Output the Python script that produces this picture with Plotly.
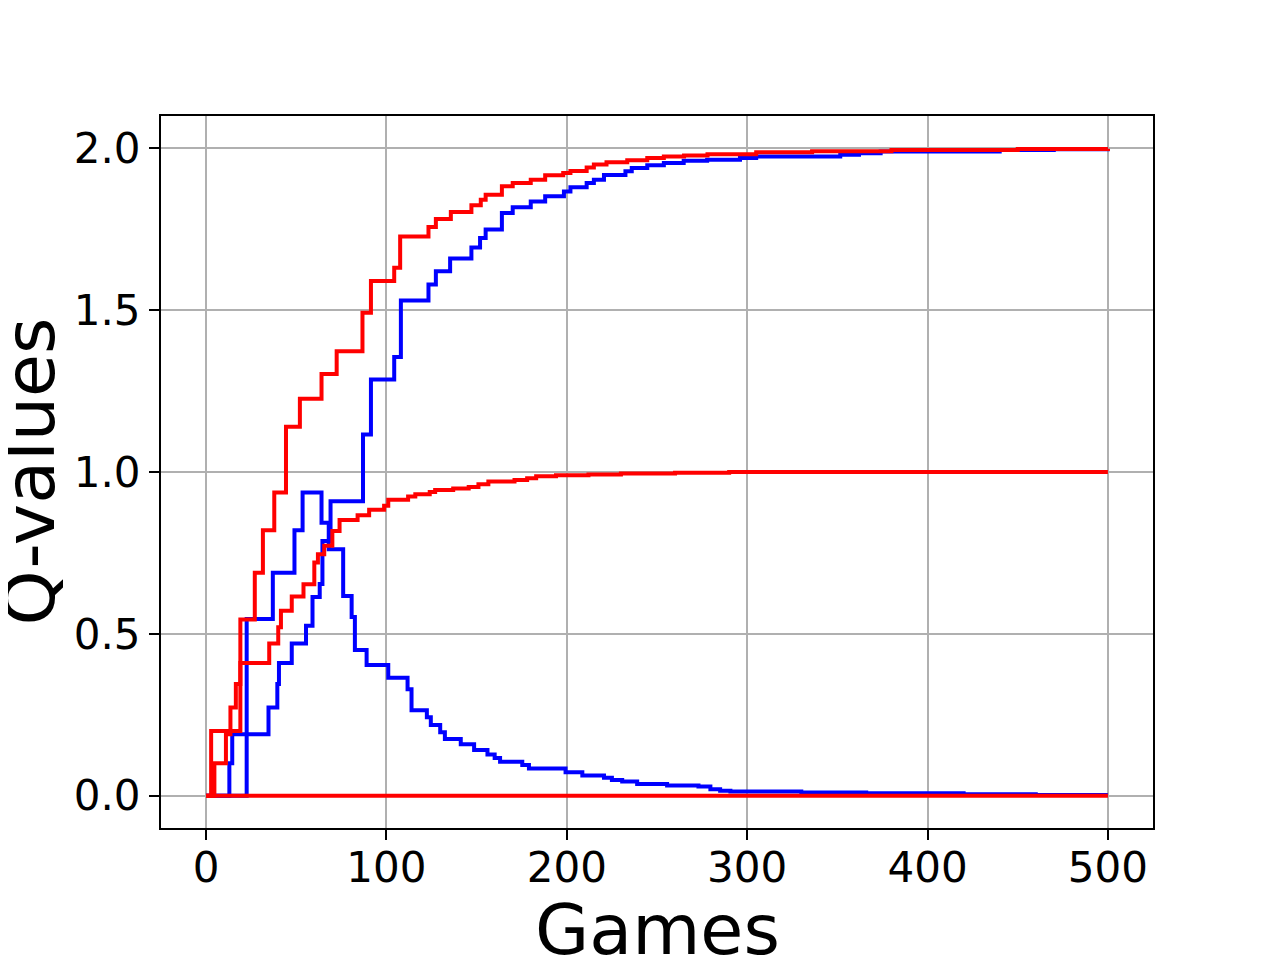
import plotly.graph_objects as go

# Step series: game at which each level starts, and the level value
blue_up_games = [0, 12.9, 14.5, 34.6, 39.5, 40.4, 47.5, 55.4, 59, 63, 64.5, 69, 87, 91.4, 104.3, 108,
                 123.3, 127.4, 135.3, 147.1, 151.9, 155, 164, 170, 180, 188, 198.4, 202, 211, 215,
                 220.6, 232.5, 236, 244.6, 253.8, 264.8, 277.8, 296, 305, 351.6, 362, 374, 440, 470, 500]
blue_up_vals = [0, 0.10, 0.19, 0.272, 0.345, 0.41, 0.47, 0.525, 0.614, 0.654, 0.787, 0.91, 1.116, 1.286,
                1.355, 1.53, 1.579, 1.62, 1.66, 1.694, 1.723, 1.749, 1.80, 1.818, 1.836, 1.852, 1.867,
                1.88, 1.893, 1.903, 1.918, 1.929, 1.939, 1.948, 1.955, 1.962, 1.965, 1.970, 1.975,
                1.98, 1.985, 1.99, 1.995, 1.997, 1.998]

blue_peak_games = [0, 22.5, 37, 49, 53.5, 64, 68, 76, 80.7, 82.5, 89, 101, 111.7, 113.9, 122.4, 124.6,
                   129.8, 132.4, 141.2, 148.6, 156, 160, 163, 175.3, 179, 199.3, 208.6, 220.6, 225,
                   230.7, 239, 255.6, 273, 279.6, 285, 290.7, 330, 366, 420, 460, 500]
blue_peak_vals = [0, 0.546, 0.689, 0.82, 0.937, 0.843, 0.761, 0.617, 0.552, 0.450, 0.404, 0.364, 0.329,
                  0.264, 0.242, 0.218, 0.196, 0.175, 0.159, 0.141, 0.127, 0.116, 0.105, 0.095, 0.084,
                  0.072, 0.062, 0.055, 0.048, 0.044, 0.036, 0.031, 0.028, 0.020, 0.015, 0.013, 0.010,
                  0.007, 0.004, 0.002, 0.002]

red_up_games = [0, 2.8, 19, 27, 31.5, 37.8, 44.3, 52, 64, 72.4, 86.7, 91.4, 104.3, 107.6, 123.3, 127.4,
                135.7, 147.1, 152.3, 155, 164, 170, 180, 188, 198, 202, 211, 215, 222, 233.5, 244.6,
                253.8, 265, 278, 305, 336, 380, 450, 500]
red_up_vals = [0, 0.20, 0.544, 0.689, 0.82, 0.937, 1.14, 1.226, 1.303, 1.373, 1.492, 1.59, 1.631, 1.728,
               1.757, 1.782, 1.803, 1.824, 1.841, 1.857, 1.883, 1.893, 1.903, 1.917, 1.924, 1.93, 1.941,
               1.95, 1.957, 1.963, 1.97, 1.975, 1.978, 1.982, 1.988, 1.991, 1.995, 1.998, 1.999]

red_one_games = [0, 4.6, 11, 13.5, 16.5, 19, 35, 40, 41.5, 47.5, 54, 60, 62, 65.5, 70, 74, 84, 90.4,
                 98.7, 101, 112, 116, 124, 127, 137, 145.6, 151, 156.5, 171, 178, 183, 194, 212, 230,
                 260, 290, 500]
red_one_vals = [0, 0.10, 0.19, 0.272, 0.345, 0.41, 0.47, 0.52, 0.571, 0.615, 0.653, 0.72, 0.746, 0.772,
                0.818, 0.852, 0.866, 0.883, 0.896, 0.914, 0.924, 0.931, 0.938, 0.944, 0.949, 0.954,
                0.962, 0.971, 0.975, 0.981, 0.987, 0.990, 0.992, 0.995, 0.998, 1.0, 1.0]

red_zero_games = [0, 500]
red_zero_vals = [0, 0]

x_ticks = [0, 100, 200, 300, 400, 500]
y_ticks = [0.0, 0.5, 1.0, 1.5, 2.0]
y_tick_text = ["0.0", "0.5", "1.0", "1.5", "2.0"]
x_title = "Games"
y_title = "Q-values"

fig = go.Figure()
series = [
    (blue_up_games, blue_up_vals, "blue"),
    (blue_peak_games, blue_peak_vals, "blue"),
    (red_up_games, red_up_vals, "red"),
    (red_one_games, red_one_vals, "red"),
    (red_zero_games, red_zero_vals, "red"),
]
for gx, gy, col in series:
    fig.add_trace(go.Scatter(x=gx, y=gy, mode="lines", line=dict(color=col, width=4, shape="hv"),
                             showlegend=False, hoverinfo="skip"))

axis_common = dict(
    showline=True, mirror=True, linecolor="black", linewidth=2,
    showgrid=True, gridcolor="#b0b0b0", gridwidth=2, zeroline=False,
    ticks="outside", ticklen=10, tickwidth=2, tickcolor="black", automargin=False,
    tickfont=dict(family="DejaVu Sans", size=42, color="black"),
)
title_font = dict(family="DejaVu Sans", size=70, color="black")
fig.update_layout(
    width=1280, height=960,
    margin=dict(l=153, r=135, t=108, b=140),
    paper_bgcolor="white", plot_bgcolor="white",
    xaxis=dict(range=[-25, 525], tickvals=x_ticks, ticklabelstandoff=-8, **axis_common),
    yaxis=dict(range=[-0.1, 2.1], tickvals=y_ticks, ticktext=y_tick_text, ticklabelstandoff=0,
               **axis_common),
    annotations=[
        dict(text=x_title, xref="paper", yref="paper", x=0.5, y=-0.1432, xanchor="center",
             yanchor="middle", showarrow=False, font=title_font),
        dict(text=y_title, xref="paper", yref="paper", x=-0.1325, y=0.5, xanchor="center",
             yanchor="middle", showarrow=False, textangle=-90, font=title_font),
    ],
)
fig.write_html("out.html")
